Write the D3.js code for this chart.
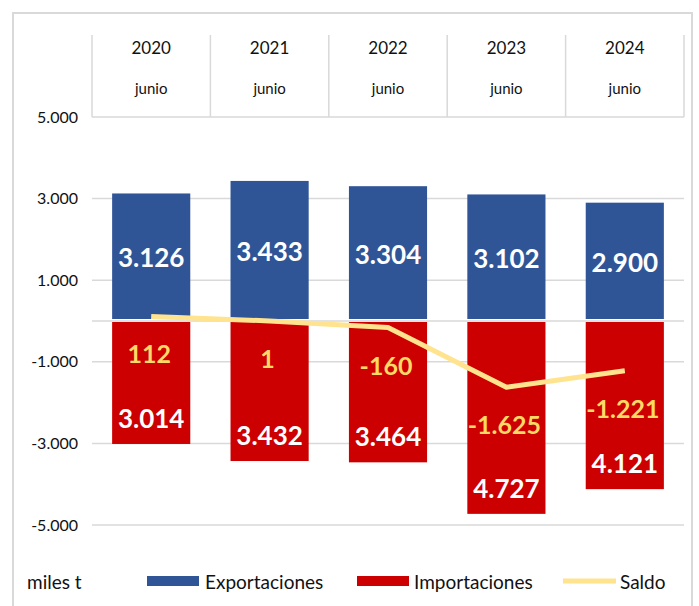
<!DOCTYPE html>
<html><head><meta charset="utf-8">
<script src="https://cdn.jsdelivr.net/npm/d3@7"></script>
<style>body{margin:0;background:#fff} svg{display:block} text{font-family:Lato,"Open Sans",sans-serif}</style>
</head><body><svg id="c" width="699" height="606"></svg>
<script>
const years = ["2020","2021","2022","2023","2024"];
const months = ["junio","junio","junio","junio","junio"];
const exportaciones = [3126,3433,3304,3102,2900];
const importaciones = [3014,3432,3464,4727,4121];
const saldo = [112,1,-160,-1625,-1221];
const yTicks = [-5000,-3000,-1000,1000,3000,5000];
const legendLabels = ["Exportaciones","Importaciones","Saldo"];
const unitLabel = "miles t";

const colors = {exp:"#2F5597", imp:"#CC0000", line:"#FFE38F", saldoText:"#FFD966", grid:"#d9d9d9"};
const loc = d3.formatLocale({decimal:",", thousands:".", grouping:[3], currency:["",""], minus:"-"});
const fmt = loc.format(",");

const svg = d3.select("#c");
const x = d3.scaleBand().domain(years).range([92,684]).paddingInner(0.34).paddingOuter(0.17);
const y = d3.scaleLinear().domain([-5000,5000]).range([525,117]);
const bw = x.bandwidth(), step = x.step();

// outer frame
svg.append("rect").attr("x",13).attr("y",13).attr("width",679).attr("height",640)
  .attr("fill","none").attr("stroke",colors.grid).attr("stroke-width",2);

// gridlines
svg.append("g").selectAll("line").data(yTicks.concat([0])).join("line")
  .attr("x1",92).attr("x2",684).attr("y1",d=>y(d)).attr("y2",d=>y(d))
  .attr("stroke",colors.grid).attr("stroke-width",1.5);

// header table
const bounds = years.map(d=>x(d)-step*0.17).concat([x(years[4])+bw+step*0.17]);
svg.append("g").selectAll("line").data(bounds).join("line")
  .attr("x1",d=>d).attr("x2",d=>d).attr("y1",35).attr("y2",y(5000))
  .attr("stroke",colors.grid).attr("stroke-width",1.5);
svg.append("g").selectAll("text").data(years).join("text")
  .attr("x",d=>x(d)+bw/2).attr("y",47).attr("text-anchor","middle").attr("dominant-baseline","central")
  .attr("font-size",17).attr("fill","#111").text(d=>d);
svg.append("g").selectAll("text").data(months).join("text")
  .attr("x",(d,i)=>x(years[i])+bw/2).attr("y",88).attr("text-anchor","middle").attr("dominant-baseline","central")
  .attr("font-size",15).attr("fill","#111").text(d=>d);

// y axis
const ax = svg.append("g").attr("transform","translate(78,0)")
  .call(d3.axisLeft(y).tickValues(yTicks).tickFormat(fmt).tickSize(0).tickPadding(0));
ax.select(".domain").remove();
ax.selectAll("text").attr("font-size",16).attr("fill","#111").attr("font-family","Lato");

// bars
svg.append("g").selectAll("rect").data(exportaciones).join("rect")
  .attr("x",(d,i)=>x(years[i])).attr("width",bw)
  .attr("y",d=>y(d)).attr("height",d=>y(0)-y(d)-2).attr("fill",colors.exp);
svg.append("g").selectAll("rect").data(importaciones).join("rect")
  .attr("x",(d,i)=>x(years[i])).attr("width",bw)
  .attr("y",y(0)+1).attr("height",d=>y(-d)-y(0)-1).attr("fill",colors.imp);

// saldo line
svg.append("path").datum(saldo)
  .attr("d",d3.line().x((d,i)=>x(years[i])+bw/2).y(d=>y(d)))
  .attr("fill","none").attr("stroke",colors.line).attr("stroke-width",5).attr("stroke-linejoin","round");

// labels
svg.append("g").selectAll("text").data(exportaciones).join("text")
  .attr("x",(d,i)=>x(years[i])+bw/2).attr("y",d=>(y(d)+y(0))/2)
  .attr("text-anchor","middle").attr("dominant-baseline","central")
  .attr("font-size",26).attr("font-weight","bold").attr("fill","#fff").text(fmt);
svg.append("g").selectAll("text").data(importaciones).join("text")
  .attr("x",(d,i)=>x(years[i])+bw/2).attr("y",d=>y(-d)-26)
  .attr("text-anchor","middle").attr("dominant-baseline","central")
  .attr("font-size",26).attr("font-weight","bold").attr("fill","#fff").text(fmt);
svg.append("g").selectAll("text").data(saldo).join("text")
  .attr("x",(d,i)=>x(years[i])+bw/2-2).attr("y",d=>y(d)+37)
  .attr("text-anchor","middle").attr("dominant-baseline","central")
  .attr("font-size",25).attr("font-weight","bold").attr("fill",colors.saldoText).text(fmt);

// legend
const lg = svg.append("g");
lg.append("text").attr("x",27).attr("y",581).attr("dominant-baseline","central").attr("font-size",19).attr("fill","#111").text(unitLabel);
lg.append("rect").attr("x",147).attr("y",576).attr("width",52).attr("height",10).attr("fill",colors.exp);
lg.append("text").attr("x",205).attr("y",581).attr("dominant-baseline","central").attr("font-size",19).attr("fill","#111").text(legendLabels[0]);
lg.append("rect").attr("x",357).attr("y",576).attr("width",52).attr("height",10).attr("fill",colors.imp);
lg.append("text").attr("x",414).attr("y",581).attr("dominant-baseline","central").attr("font-size",19).attr("fill","#111").text(legendLabels[1]);
lg.append("line").attr("x1",563).attr("x2",616).attr("y1",581).attr("y2",581).attr("stroke",colors.line).attr("stroke-width",5);
lg.append("text").attr("x",620).attr("y",581).attr("dominant-baseline","central").attr("font-size",19).attr("fill","#111").text(legendLabels[2]);
</script></body></html>
